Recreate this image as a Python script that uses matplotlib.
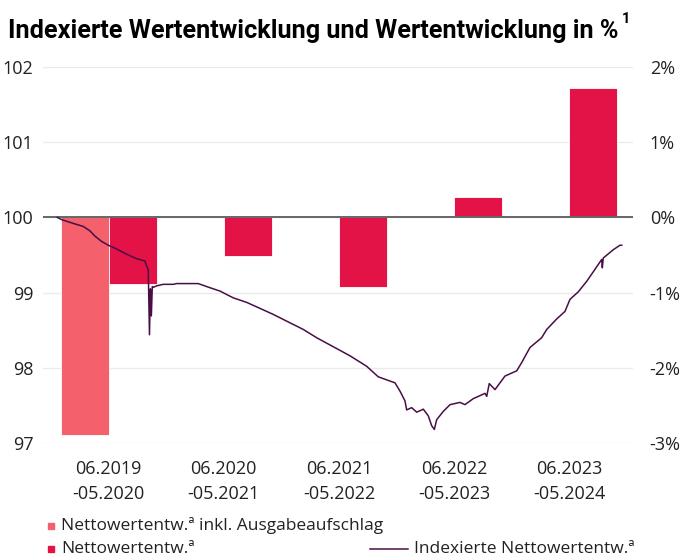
import matplotlib
matplotlib.use("Agg")
import matplotlib.pyplot as plt
from matplotlib.lines import Line2D
from matplotlib.ticker import FuncFormatter
import numpy as np

# data
periods = ["06.2019\n-05.2020", "06.2020\n-05.2021", "06.2021\n-05.2022",
           "06.2022\n-05.2023", "06.2023\n-05.2024"]
perf_incl_fee = [-2.90, None, None, None, None]   # Nettowertentw. inkl. Ausgabeaufschlag
perf_net = [-0.88, -0.51, -0.92, 0.27, 1.72]       # Nettowertentw.

# indexed net performance, months since 06.2019
idx_month = [0, 0.47, 1.70, 2.76, 3.48, 4.01, 4.72, 5.42, 6.31, 7.38, 8.44, 9.32, 9.50, 9.67,
             9.80, 9.90, 10.0, 10.1, 10.2, 10.57, 11.27, 12.33, 12.69, 14.11, 14.99, 15.88,
             17.30, 18.71, 20.13, 21.55, 22.96, 24.39, 26.15, 27.57, 29.34, 31.11, 32.89,
             34.12, 35.90, 36.43, 36.96, 37.14, 37.67, 38.21, 38.91, 39.44, 39.80, 40.08,
             40.33, 41.03, 41.75, 42.81, 43.34, 44.22, 45.47, 45.65, 45.92, 46.53, 47.59,
             48.84, 49.37, 50.25, 51.49, 52.03, 53.09, 53.97, 54.50, 55.38, 56.28, 57.16,
             57.87, 57.94, 58.04, 59.10, 59.82, 60]
idx_value = [100.00, 99.97, 99.92, 99.88, 99.82, 99.75, 99.68, 99.63, 99.58, 99.51, 99.45,
             99.42, 99.35, 99.31, 98.44, 99.05, 98.69, 99.08, 99.07, 99.09, 99.11, 99.11,
             99.12, 99.12, 99.12, 99.08, 99.02, 98.93, 98.87, 98.79, 98.71, 98.62, 98.51,
             98.40, 98.28, 98.16, 98.02, 97.88, 97.80, 97.69, 97.56, 97.44, 97.47, 97.41,
             97.45, 97.36, 97.23, 97.18, 97.31, 97.42, 97.51, 97.54, 97.51, 97.59, 97.66,
             97.62, 97.79, 97.71, 97.89, 97.96, 98.07, 98.27, 98.40, 98.51, 98.65, 98.75,
             98.91, 99.01, 99.15, 99.31, 99.44, 99.33, 99.46, 99.57, 99.63, 99.63]

light_red = "#f4606c"
dark_red = "#e31348"
line_col = "#4a0e46"
grey_txt = "#222222"

plt.rcParams["font.family"] = ["Open Sans", "DejaVu Sans"]

fig = plt.figure(figsize=(6.81, 5.56), dpi=100)
ax2 = fig.add_axes([43/681, 1-443/556, 590/681, 376/556])
ax = ax2.twinx()
ax.set_zorder(ax2.get_zorder()+1)
ax.patch.set_visible(False)

x = np.arange(len(periods))
w = 0.417
incl = [np.nan if v is None else v for v in perf_incl_fee]
ax2.bar(x - w/2, incl, w, color=light_red, edgecolor="white", linewidth=0.6)
ax2.bar(x + w/2, perf_net, w, color=dark_red, edgecolor="white", linewidth=0.6)
ax2.axhline(0, color="#666666", lw=1.4, zorder=5)

ax2.set_ylim(-3, 2)
ax2.set_yticks([-3, -2, -1, 0, 1, 2])
ax2.yaxis.set_major_formatter(FuncFormatter(lambda v, p: "%d%%" % v))
ax2.grid(axis="y", color="#ebebeb", lw=1)
ax2.set_axisbelow(True)
ax2.yaxis.tick_right()
ax2.set_xlim(-0.569, 4.553)
ax2.set_xticks(x)
ax2.set_xticklabels(periods, linespacing=1.55)

t = np.array(idx_month)
ax.plot(-0.445 + t * 4.9 / 60, idx_value, color=line_col, lw=1.1, zorder=6)
ax.set_ylim(97, 102)
ax.set_yticks([97, 98, 99, 100, 101, 102])
ax.yaxis.tick_left()

for a in (ax, ax2):
    for s in a.spines.values():
        s.set_visible(False)
    a.tick_params(length=0, labelsize=13, colors=grey_txt)
ax2.tick_params(axis="y", pad=12)
ax.tick_params(axis="y", pad=7)
ax2.tick_params(axis="x", pad=12)

title = fig.text(8/681, 1-31/556, "Indexierte Wertentwicklung und Wertentwicklung in %",
                 fontsize=18.2, fontweight="bold", va="center", ha="left", color="black",
                 family=["Roboto", "DejaVu Sans"])
fig.canvas.draw()
bb = title.get_window_extent(fig.canvas.get_renderer())
fig.text(bb.x1 / fig.bbox.width + 3/681, 1-19/556, "1", fontsize=10.5, fontweight="bold",
         va="center", ha="left", family=["Roboto", "DejaVu Sans"])

# legend
fs = 12.5
y1, y2 = 1-526/556, 1-549/556
fig.add_artist(Line2D([51/681], [y1], marker="s", ms=4.5, color=light_red, lw=0,
                      transform=fig.transFigure))
fig.text(61/681, y1, "Nettowertentw.ª inkl. Ausgabeaufschlag", fontsize=fs,
         va="center", color=grey_txt)
fig.add_artist(Line2D([51/681], [y2], marker="s", ms=4.5, color=dark_red, lw=0,
                      transform=fig.transFigure))
fig.text(61/681, y2, "Nettowertentw.ª", fontsize=fs, va="center", color=grey_txt)
fig.add_artist(Line2D([370/681, 408/681], [y2, y2], color=line_col, lw=1.1,
                      transform=fig.transFigure))
fig.text(414/681, y2, "Indexierte Nettowertentw.ª", fontsize=fs, va="center",
         color=grey_txt)

fig.savefig("out.png", dpi=100)
